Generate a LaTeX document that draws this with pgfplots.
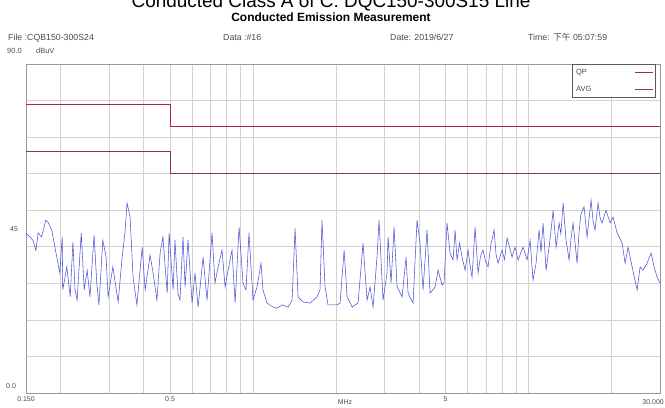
\documentclass[border=0pt]{standalone}
\usepackage{fontspec}
\setmainfont{Liberation Sans}
\newfontfamily\cjk{Noto Sans CJK SC}
\usepackage{pgfplots}
\pgfplotsset{compat=1.18}
\definecolor{trace}{RGB}{80,80,215}
\definecolor{qpc}{RGB}{170,40,70}
\definecolor{avgc}{RGB}{150,45,100}
\definecolor{gridc}{RGB}{210,210,210}
\definecolor{txt}{RGB}{75,75,75}
\begin{document}
\begin{tikzpicture}[x=1bp,y=1bp]
\path[use as bounding box] (0,0) rectangle (665,407);
\begin{axis}[
  at={(26bp,14bp)}, anchor=south west, scale only axis,
  width=634bp, height=329bp,
  xmode=log, xmin=0.15, xmax=30, ymin=0, ymax=90,
  xtick={0.15,0.2,0.3,0.4,0.5,0.6,0.7,0.8,0.9,1,2,3,4,5,6,7,8,9,10,20,30},
  xticklabels={0.150,,,,0.5,,,,,,,,,5,,,,,,,},
  ytick={0,10,...,90}, yticklabels={},
  major tick length=0pt,
  grid=major, major grid style={gridc, line width=0.6pt},
  axis line style={draw=gray!80, line width=0.6pt},
  tick label style={font=\fontsize{7}{8}\selectfont, text=txt},
  legend style={at={(rel axis cs:0.861,1.0)}, anchor=north west,
    draw=gray!70!black, line width=0.6pt, fill=white,
    font=\fontsize{7.5}{8}\selectfont, text=txt, row sep=6bp,
    inner xsep=2bp, inner ysep=3bp},
  legend image code/.code={\draw[#1] (0bp,0bp) -- (18bp,0bp);},
  legend plot pos=right, legend cell align=left,
  clip=false,
]
\addplot[trace, line width=0.55pt, forget plot] coordinates {
(0.150,43.8)(0.159,41.8)(0.163,39.0)(0.166,43.8)(0.171,42.7)(0.177,47.3)(0.180,46.8)(0.186,44.6)
(0.194,37.2)(0.199,32.8)(0.203,42.7)(0.204,28.2)(0.211,34.5)(0.217,26.3)(0.222,41.3)(0.226,28.2)
(0.230,25.4)(0.238,43.8)(0.244,28.2)(0.250,33.6)(0.256,26.3)(0.265,43.2)(0.271,30.1)(0.276,24.1)
(0.285,41.8)(0.293,37.2)(0.298,26.3)(0.310,34.5)(0.324,24.9)(0.335,37.2)(0.343,43.8)(0.349,52.0)
(0.358,48.1)(0.367,31.7)(0.379,24.1)(0.396,39.9)(0.406,28.2)(0.423,37.7)(0.434,32.8)(0.448,25.4)
(0.460,38.3)(0.471,42.7)(0.488,27.3)(0.496,43.8)(0.513,28.2)(0.521,41.8)(0.534,27.3)
(0.543,25.4)(0.557,42.7)(0.567,29.0)(0.581,41.8)(0.601,24.6)(0.616,32.8)(0.632,23.5)(0.659,37.2)
(0.681,25.4)(0.710,43.8)(0.728,30.1)(0.747,34.5)(0.772,39.1)(0.792,29.0)(0.812,33.6)(0.839,39.1)
(0.861,24.6)(0.890,45.4)(0.920,30.1)(0.943,28.2)(0.967,43.8)(1.000,25.4)(1.034,29.0)(1.069,35.5)
(1.087,28.2)(1.124,24.6)(1.182,23.5)(1.223,23.2)(1.275,24.1)(1.340,23.5)(1.386,25.4)(1.421,45.1)
(1.457,26.3)(1.519,24.9)(1.611,24.6)(1.707,26.3)(1.751,28.2)(1.780,47.3)(1.826,29.0)(1.872,24.1)
(2.019,24.1)(2.070,24.6)(2.141,39.1)(2.195,26.3)(2.289,23.5)(2.406,24.6)(2.508,41.0)(2.594,25.4)
(2.660,29.0)(2.727,23.5)(2.819,37.2)(2.867,47.3)(2.964,25.4)(3.065,32.8)(3.092,42.7)(3.170,30.1)
(3.251,45.4)(3.333,29.0)(3.476,26.3)(3.593,37.2)(3.654,27.3)(3.809,24.6)(3.939,47.3)(4.038,41.0)
(4.142,28.2)(4.281,44.6)(4.391,27.3)(4.578,29.0)(4.695,33.6)(4.854,29.5)(4.935,30.1)(5.061,46.5)
(5.189,38.3)(5.322,36.4)(5.412,44.6)(5.502,36.4)(5.620,41.0)(5.736,37.2)(5.883,33.6)(6.032,39.1)
(6.130,35.0)(6.237,31.7)(6.396,45.4)(6.558,32.8)(6.700,37.5)(6.839,39.1)(6.980,36.0)(7.130,34.5)
(7.300,40.5)(7.496,44.6)(7.620,38.0)(7.751,35.5)(8.016,39.1)(8.180,36.5)(8.357,42.4)(8.714,37.2)
(8.936,39.9)(9.162,36.4)(9.552,39.9)(9.878,36.4)(10.13,41.8)(10.38,30.9)(10.65,35.5)
(10.92,44.6)(11.10,38.5)(11.29,46.5)(11.58,33.6)(11.87,39.9)(12.05,44.0)(12.28,50.0)(12.59,39.9)
(12.91,46.5)(13.10,43.5)(13.35,52.0)(13.68,41.8)(14.03,36.4)(14.25,42.0)(14.51,46.5)(15.00,35.5)
(15.25,44.0)(15.51,49.2)(15.90,50.9)(16.31,42.7)(16.86,52.8)(17.15,47.0)(17.43,44.6)(17.88,52.0)
(18.18,48.0)(18.48,46.5)(19.11,50.0)(19.77,46.5)(20.27,48.1)(20.96,43.8)(21.86,41.0)
(22.41,35.5)(22.98,39.9)(23.76,34.5)(24.78,28.2)(25.40,34.5)(26.04,33.6)(26.93,35.5)(27.84,38.3)
(28.55,34.5)(29.28,31.7)(30.00,30.1)
};
\addplot[qpc, line width=1pt] coordinates {(0.15,79)(0.5,79)(0.5,73)(30,73)};
\addlegendentry{\makebox[56bp][l]{QP}}
\addplot[avgc, line width=1pt] coordinates {(0.15,66)(0.5,66)(0.5,60)(30,60)};
\addlegendentry{\makebox[56bp][l]{AVG}}
\end{axis}
\node[anchor=base] at (331,399.5) {\fontsize{19}{19}\selectfont Conducted Class A of C: DQC150-300S15 Line};
\node[anchor=base] at (331,385.5) {\fontsize{12}{12}\selectfont\bfseries Conducted Emission Measurement};
\begin{scope}[every node/.style={anchor=base west, inner sep=0pt, font=\fontsize{8.8}{9}\selectfont, text=txt}]
\node at (8,367) {File :CQB150-300S24};
\node at (223,367) {Data :\#16};
\node at (390,367) {Date: 2019/6/27};
\node at (528,367) {Time: {\cjk 下午} 05:07:59};
\end{scope}
\begin{scope}[every node/.style={anchor=base west, inner sep=0pt, font=\fontsize{7.5}{8}\selectfont, text=txt}]
\node at (7,354) {90.0};
\node at (36,354) {dBuV};
\end{scope}
\begin{scope}[every node/.style={inner sep=0pt, font=\fontsize{7}{8}\selectfont, text=txt}]
\node[anchor=west] at (10,178) {45};
\node[anchor=west] at (6,21) {0.0};
\node at (345,5) {MHz};
\node[anchor=east] at (664,5) {30.000};
\end{scope}
\end{tikzpicture}
\end{document}
